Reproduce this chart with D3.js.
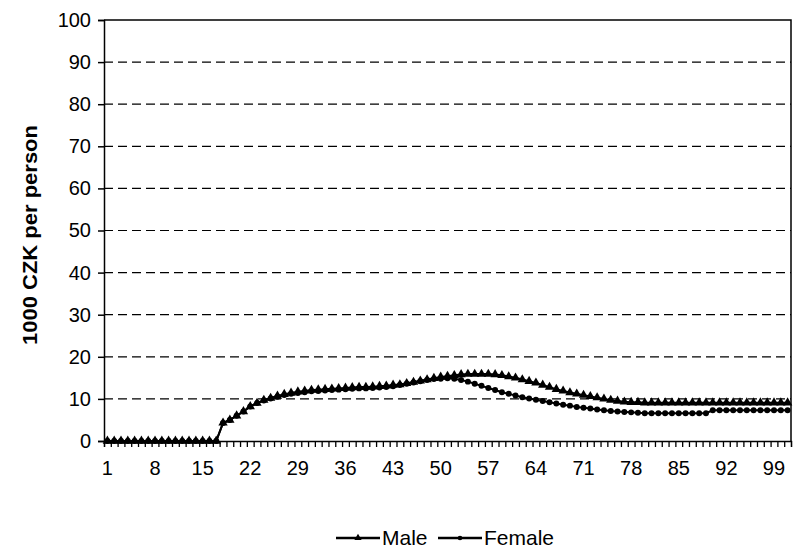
<!DOCTYPE html>
<html>
<head>
<meta charset="utf-8">
<script src="https://cdn.jsdelivr.net/npm/d3@7/dist/d3.min.js"></script>
<style>
  body { margin: 0; background: #fff; }
  text { font-family: "Liberation Sans", Arial, sans-serif; fill: #000; }
</style>
</head>
<body>
<svg id="mainsvg" width="796" height="550"></svg>
<script>
// ages 1..101
const ages = d3.range(1, 102);
const tickLabels = [1, 8, 15, 22, 29, 36, 43, 50, 57, 64, 71, 78, 85, 92, 99];
const yTicks = [0, 10, 20, 30, 40, 50, 60, 70, 80, 90, 100];

const male = [
  0, 0, 0, 0, 0, 0, 0, 0, 0, 0, 0, 0, 0, 0, 0, 0, 0,
  4.3, 5.0, 6.0, 7.0, 8.2, 9.0, 9.7, 10.2, 10.7, 11.1, 11.4, 11.7,
  11.9, 12.1, 12.2, 12.3, 12.4, 12.5, 12.6, 12.7, 12.8, 12.8, 12.9, 13.0, 13.1, 13.3,
  13.4, 13.7, 14.0, 14.3, 14.6, 14.9, 15.2, 15.4, 15.6, 15.8, 15.9, 15.9, 15.9, 15.9,
  15.8, 15.6, 15.3, 15.0, 14.6, 14.2, 13.8, 13.3, 12.8, 12.3, 11.9, 11.5,
  11.2, 10.9, 10.6, 10.3, 10.0, 9.7, 9.5, 9.3,
  9.2, 9.2, 9.1, 9.1, 9.1, 9.1, 9.1, 9.1, 9.1, 9.1, 9.1, 9.1,
  9.1, 9.1, 9.1, 9.1, 9.1, 9.1, 9.1, 9.1, 9.1, 9.1, 9.1, 9.1
];

const female = [
  0, 0, 0, 0, 0, 0, 0, 0, 0, 0, 0, 0, 0, 0, 0, 0, 0,
  4.3, 5.0, 6.0, 7.0, 8.2, 9.0, 9.6, 10.1, 10.5, 10.9, 11.2, 11.4,
  11.6, 11.8, 11.9, 12.0, 12.1, 12.2, 12.3, 12.4, 12.5, 12.5, 12.6, 12.7, 12.8, 13.0,
  13.3, 13.6, 13.9, 14.2, 14.5, 14.7, 14.8, 14.9, 14.8, 14.5, 14.1, 13.6, 13.1, 12.6,
  12.1, 11.6, 11.2, 10.8, 10.4, 10.1, 9.8, 9.5, 9.2, 8.9, 8.6, 8.4,
  8.1, 7.9, 7.7, 7.5, 7.3, 7.1, 7.0, 6.9,
  6.8, 6.7, 6.6, 6.6, 6.6, 6.6, 6.6, 6.6, 6.6, 6.6, 6.6, 6.6,
  7.3, 7.3, 7.3, 7.3, 7.3, 7.3, 7.3, 7.3, 7.3, 7.3, 7.3, 7.3
];

const series = [
  { name: 'Male', values: male, symbol: d3.symbolTriangle, size: 38 },
  { name: 'Female', values: female, symbol: d3.symbolCircle, size: 28 }
];

const svg = d3.select('#mainsvg');
const plotLeft = 104, plotRight = 791, plotTop = 20, plotBottom = 441;

const xScale = d3.scaleBand().domain(ages).range([plotLeft, plotRight]);
const xEdge = d3.scaleLinear().domain([0, ages.length]).range([plotLeft, plotRight]);
const yScale = d3.scaleLinear().domain([0, 100]).range([plotBottom, plotTop]);

// dashed gridlines
svg.append('g').selectAll('line').data(yTicks.filter(d => d > 0 && d < 100)).join('line')
  .attr('x1', plotLeft).attr('x2', plotRight)
  .attr('y1', d => yScale(d)).attr('y2', d => yScale(d))
  .attr('stroke', '#000').attr('stroke-width', 1.2).attr('stroke-dasharray', '9,5');

// frame top/right
svg.append('path')
  .attr('d', `M${plotLeft},${plotTop}H${plotRight}V${plotBottom}`)
  .attr('fill', 'none').attr('stroke', '#000').attr('stroke-width', 1.5);

// y axis
const yAxis = svg.append('g').attr('transform', `translate(${plotLeft},0)`)
  .call(d3.axisLeft(yScale).tickValues(yTicks).tickSize(6).tickPadding(7));
yAxis.selectAll('line, path').attr('stroke', '#000').attr('stroke-width', 1.5);
yAxis.selectAll('text').attr('font-size', 20).attr('font-family', '"Liberation Sans", Arial, sans-serif');

// x axis ticks at category edges
const xTicks = svg.append('g').attr('transform', `translate(0,${plotBottom})`)
  .call(d3.axisBottom(xEdge).tickValues(d3.range(0, ages.length + 1)).tickSize(6).tickFormat(''));
xTicks.selectAll('line, path').attr('stroke', '#000').attr('stroke-width', 1.3);

// x labels
const xLab = svg.append('g').attr('transform', `translate(0,${plotBottom})`)
  .call(d3.axisBottom(xScale).tickValues(tickLabels).tickSize(0).tickPadding(20));
xLab.select('.domain').remove();
xLab.selectAll('text').attr('font-size', 20).attr('font-family', '"Liberation Sans", Arial, sans-serif');

// y title
svg.append('text')
  .attr('transform', `translate(37,${(125 + 345) / 2}) rotate(-90)`)
  .attr('text-anchor', 'middle')
  .attr('font-size', 20).attr('font-weight', 'bold')
  .attr('textLength', 220).attr('lengthAdjust', 'spacingAndGlyphs')
  .text('1000 CZK per person');

// lines + markers
const line = d3.line()
  .x((d, i) => xScale(ages[i]) + xScale.bandwidth() / 2)
  .y(d => yScale(d));

series.forEach(s => {
  svg.append('path').datum(s.values)
    .attr('d', line).attr('fill', 'none')
    .attr('stroke', '#000').attr('stroke-width', 2);
  svg.append('g').selectAll('path').data(s.values).join('path')
    .attr('d', d3.symbol().type(s.symbol).size(s.size))
    .attr('transform', (d, i) => `translate(${xScale(ages[i]) + xScale.bandwidth() / 2},${yScale(d)})`)
    .attr('fill', '#000');
});

// legend
const legend = svg.append('g').attr('transform', 'translate(0,538)');
const legendX = [336, 438];
series.forEach((s, i) => {
  const g = legend.append('g').attr('transform', `translate(${legendX[i]},0)`);
  g.append('line').attr('x1', 0).attr('x2', 44).attr('y1', 0).attr('y2', 0)
    .attr('stroke', '#000').attr('stroke-width', 2.5);
  g.append('path').attr('d', d3.symbol().type(s.symbol).size(s.size * 0.6))
    .attr('transform', 'translate(22,0)').attr('fill', '#000');
  g.append('text').attr('x', 46).attr('y', 0).attr('dy', '0.35em')
    .attr('font-size', 21).text(s.name);
});
</script>
</body>
</html>
